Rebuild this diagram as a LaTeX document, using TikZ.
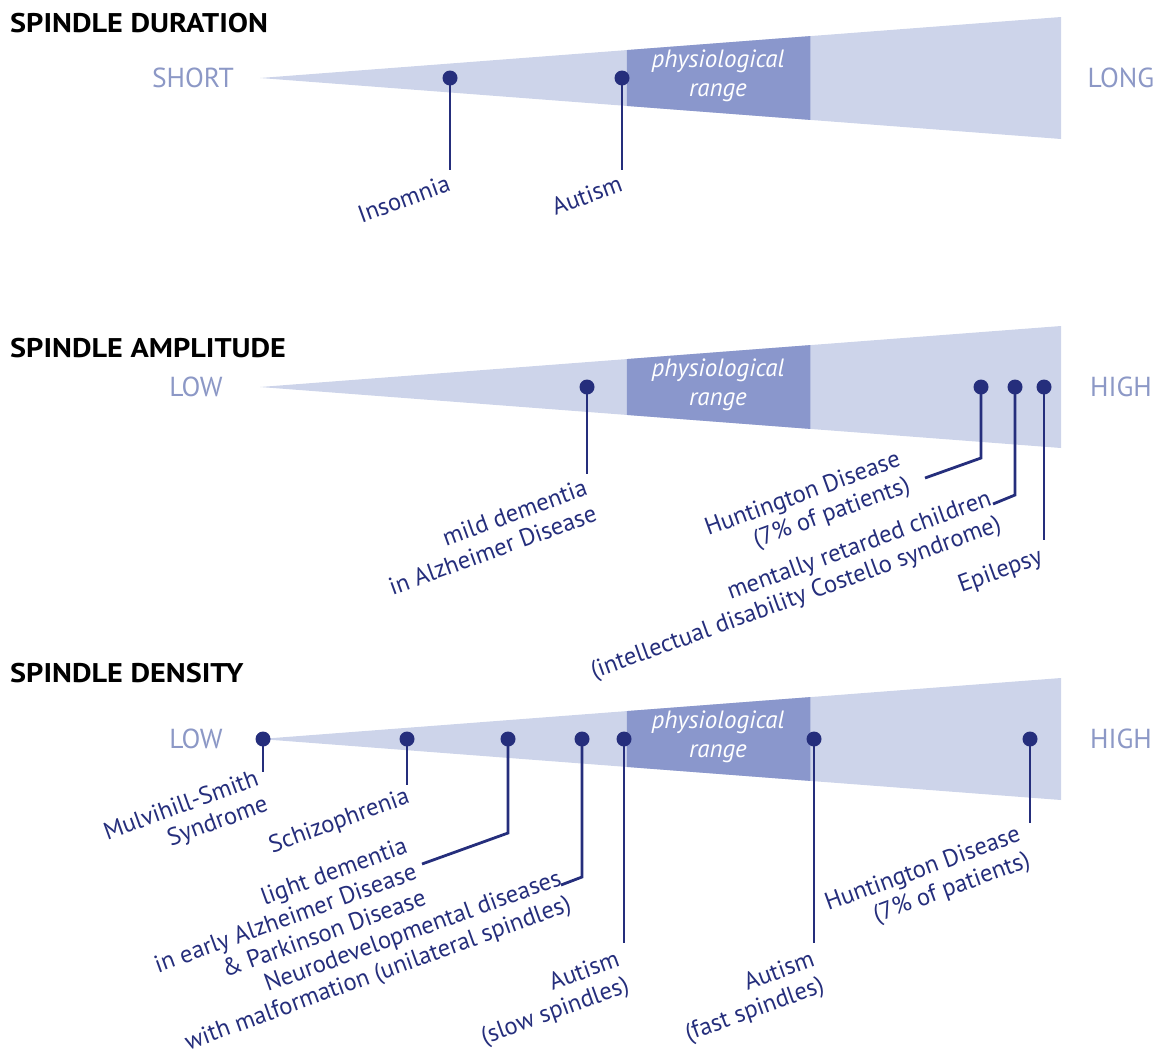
\documentclass[tikz,border=0pt]{standalone}
\usepackage{fontspec}
\setmainfont{PT Sans}
\newfontfamily\headingfont{PT Sans}[FakeStretch=1.12]
\usetikzlibrary{calc,positioning}

\definecolor{wedgeblue}{HTML}{CDD4EA}
\definecolor{rangeblue}{HTML}{8A97CC}
\definecolor{navy}{HTML}{252E7C}
\definecolor{axisgrey}{HTML}{8C98C6}

\tikzset{
	heading/.style={anchor=base west, inner sep=0, font=\headingfont\fontsize{27}{30}\selectfont\bfseries},
	endlabel/.style={inner sep=0, text=axisgrey, font=\fontsize{27.5}{30}\selectfont},
	rangetext/.style={inner sep=0, text=white, align=center, font=\fontsize{25}{29}\selectfont\itshape},
	dot/.style={circle, fill=navy, minimum size=15pt, inner sep=0},
	stem/.style={navy, line width=2.8pt},
	disease/.style={inner sep=0, text=navy, rotate=20, anchor=north east, align=right, font=\fontsize{24.5}{27.5}\selectfont},
}

\begin{document}
\begin{tikzpicture}[x=1pt,y=-1pt]
	\useasboundingbox (0,0) rectangle (1158,1050);
	% wedges with the physiological range
	\foreach \c in {78,387,739} {
		\fill[wedgeblue] (260,\c) -- (1061,\c-61) -- (1061,\c+61) -- cycle;
		\fill[rangeblue]
			($(260,\c)!0.458!(1061,\c-61)$) -- ($(260,\c)!0.687!(1061,\c-61)$) --
			($(260,\c)!0.687!(1061,\c+61)$) -- ($(260,\c)!0.458!(1061,\c+61)$) -- cycle;
		\node[rangetext] at (718,\c-2) {physiological\\range};
	}

	% duration
	\node[heading] (durtitle) at (10,32) {SPINDLE DURATION};
	\node[endlabel] (short) at (193,78) {SHORT};
	\node[endlabel] (long) at (1121,78) {LONG};
	\node[dot] (insomnia) at (450,78) {};
	\node[dot] (autism) at (622,78) {};
	\coordinate (insomnia-end) at (450,170);
	\coordinate (autism-end) at (622,170);
	\node[disease] (insomnia-label) at (446,174) {Insomnia};
	\node[disease] (autism-label) at (618,174) {Autism};
	\draw[stem] (insomnia.center) -- (insomnia-end);
	\draw[stem] (autism.center) -- (autism-end);

	% amplitude
	\node[heading] (amptitle) at (10,357) {SPINDLE AMPLITUDE};
	\node[endlabel] (low) at (196,387) {LOW};
	\node[endlabel] (high) at (1121,387) {HIGH};
	\node[dot] (alzheimer) at (587,387) {};
	\node[dot] (huntington) at (981,387) {};
	\node[dot] (retarded) at (1015,387) {};
	\node[dot] (epilepsy) at (1044,387) {};
	\coordinate (alzheimer-end) at (587,474);
	\coordinate (huntington-bend) at (981,458);
	\coordinate (huntington-end) at (925,478);
	\coordinate (retarded-bend) at (1015,495);
	\coordinate (retarded-end) at (993,504);
	\coordinate (epilepsy-end) at (1044,540);
	\node[disease] (alzheimer-label) at (583,478) {mild dementia\\in Alzheimer Disease};
	\node[disease] (huntington-label) at (896,449) {Huntington Disease\\(7\% of patients)};
	\node[disease] (retarded-label) at (987,488) {mentally retarded children\\(intellectual disability Costello syndrome)};
	\node[disease] (epilepsy-label) at (1038,546) {Epilepsy};
	\draw[stem] (alzheimer.center) -- (alzheimer-end);
	\draw[stem] (huntington.center) -- (huntington-bend) -- (huntington-end);
	\draw[stem] (retarded.center) -- (retarded-bend) -- (retarded-end);
	\draw[stem] (epilepsy.center) -- (epilepsy-end);

	% density
	\node[heading] (dentitle) at (10,682) {SPINDLE DENSITY};
	\node[endlabel] (low2) at (196,739) {LOW};
	\node[endlabel] (high2) at (1121,739) {HIGH};
	\node[dot] (mulvihill) at (263,739) {};
	\node[dot] (schizo) at (407,739) {};
	\node[dot] (dementia) at (508,739) {};
	\node[dot] (neuro) at (582,739) {};
	\node[dot] (slow) at (624,739) {};
	\node[dot] (fast) at (814,739) {};
	\node[dot] (huntington2) at (1030,739) {};
	\coordinate (mulvihill-end) at (263,772);
	\coordinate (schizo-end) at (407,785);
	\coordinate (dementia-bend) at (508,833);
	\coordinate (dementia-end) at (422,864);
	\coordinate (neuro-bend) at (582,877);
	\coordinate (neuro-end) at (561,885);
	\coordinate (slow-end) at (624,943);
	\coordinate (fast-end) at (814,943);
	\coordinate (huntington2-end) at (1030,823);
	\node[disease] (mulvihill-label) at (254,768) {Mulvihill-Smith\\Syndrome};
	\node[disease] (schizo-label) at (405,786) {Schizophrenia};
	\node[disease] (dementia-label) at (403,836) {light dementia\\in early Alzheimer Disease\\\& Parkinson Disease};
	\node[disease] (neuro-label) at (557,868) {Neurodevelopmental diseases\\with malformation (unilateral spindles)};
	\node[disease] (slow-label) at (615,949) {Autism\\(slow spindles)};
	\node[disease] (fast-label) at (810,949) {Autism\\(fast spindles)};
	\node[disease] (huntington2-label) at (1016,824) {Huntington Disease\\(7\% of patients)};
	\draw[stem] (mulvihill.center) -- (mulvihill-end);
	\draw[stem] (schizo.center) -- (schizo-end);
	\draw[stem] (dementia.center) -- (dementia-bend) -- (dementia-end);
	\draw[stem] (neuro.center) -- (neuro-bend) -- (neuro-end);
	\draw[stem] (slow.center) -- (slow-end);
	\draw[stem] (fast.center) -- (fast-end);
	\draw[stem] (huntington2.center) -- (huntington2-end);
\end{tikzpicture}
\end{document}
